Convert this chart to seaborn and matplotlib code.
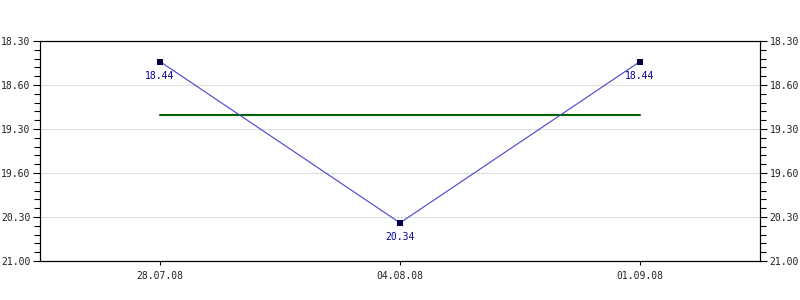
import matplotlib
matplotlib.use("Agg")
import matplotlib.pyplot as plt
import seaborn as sns
import pandas as pd
import numpy as np
from matplotlib.ticker import MultipleLocator, FixedLocator

sns.set_theme(style="white")
plt.rcParams['font.family'] = ['DejaVu Sans Mono', 'DejaVu Sans']

# ---- data (times as mm.ss) ----
dates = ["28.07.08", "04.08.08", "01.09.08"]
time_labels = ["18.44", "20.34", "18.44"]
ytick_labels = ["18.30", "18.60", "19.30", "19.60", "20.30", "21.00"]
y_min_label = "18.30"
y_max_label = "21.00"

def to_sec(s):
    m, sec = s.split(".")
    return int(m) * 60 + int(sec)

secs = [to_sec(t) for t in time_labels]
ymin, ymax = to_sec(y_min_label), to_sec(y_max_label)
df = pd.DataFrame({"date": dates, "x": range(len(dates)), "sec": secs, "label": time_labels})
mean_val = float(np.mean(secs))

fig = plt.figure(figsize=(8, 3), dpi=100)
ax = fig.add_axes([0.05, 0.13, 0.90, 0.7333])

line_col = "#4444cc"
sns.lineplot(data=df, x="x", y="sec", ax=ax, color=line_col, linewidth=0.8, zorder=3)
ax.scatter(df["x"], df["sec"], marker="s", s=14, color="#000044", zorder=4, linewidths=0)
ax.plot([df["x"].min(), df["x"].max()], [mean_val, mean_val], color="#006400", linewidth=1.5, zorder=2)

for xv, yv, lab in zip(df["x"], df["sec"], df["label"]):
    ax.annotate(lab, (xv, yv), xytext=(0, -6.5), textcoords="offset points",
                ha="center", va="top", fontsize=7, color="#000099")

ax.set_xlim(-0.5, len(dates) - 0.5)
ax.set_ylim(ymax, ymin)
major = np.linspace(ymin, ymax, len(ytick_labels))
ax.yaxis.set_major_locator(FixedLocator(major))
ax.set_yticklabels(ytick_labels)
ax.yaxis.set_minor_locator(MultipleLocator(6))
ax.set_xticks(df["x"])
ax.set_xticklabels(dates)
ax.set_xlabel("")
ax.set_ylabel("")
ax.grid(axis="y", which="major", color="#dddddd", linewidth=0.8)
ax.set_axisbelow(True)
for s in ax.spines.values():
    s.set_color("black")
    s.set_linewidth(0.8)
ax.tick_params(axis="y", which="major", left=True, length=5, width=0.8, color="black",
               labelsize=7, labelcolor="#222222", pad=2)
ax.tick_params(axis="y", which="minor", left=True, length=4, width=0.8, color="black")
ax.tick_params(axis="x", bottom=True, length=3, width=0.8, color="black",
               labelsize=7, labelcolor="#222222", pad=4)

ax2 = ax.twinx()
ax2.set_ylim(ymax, ymin)
ax2.yaxis.set_major_locator(FixedLocator(major))
ax2.set_yticklabels(ytick_labels)
ax2.yaxis.set_minor_locator(MultipleLocator(6))
ax2.tick_params(axis="y", which="major", right=True, length=5, width=0.8, color="black",
                labelsize=7, labelcolor="#222222", pad=2)
ax2.tick_params(axis="y", which="minor", right=True, length=4, width=0.8, color="black")
ax2.grid(False)
for s in ax2.spines.values():
    s.set_color("black")
    s.set_linewidth(0.8)

fig.savefig("out.png", dpi=100, facecolor="white")
